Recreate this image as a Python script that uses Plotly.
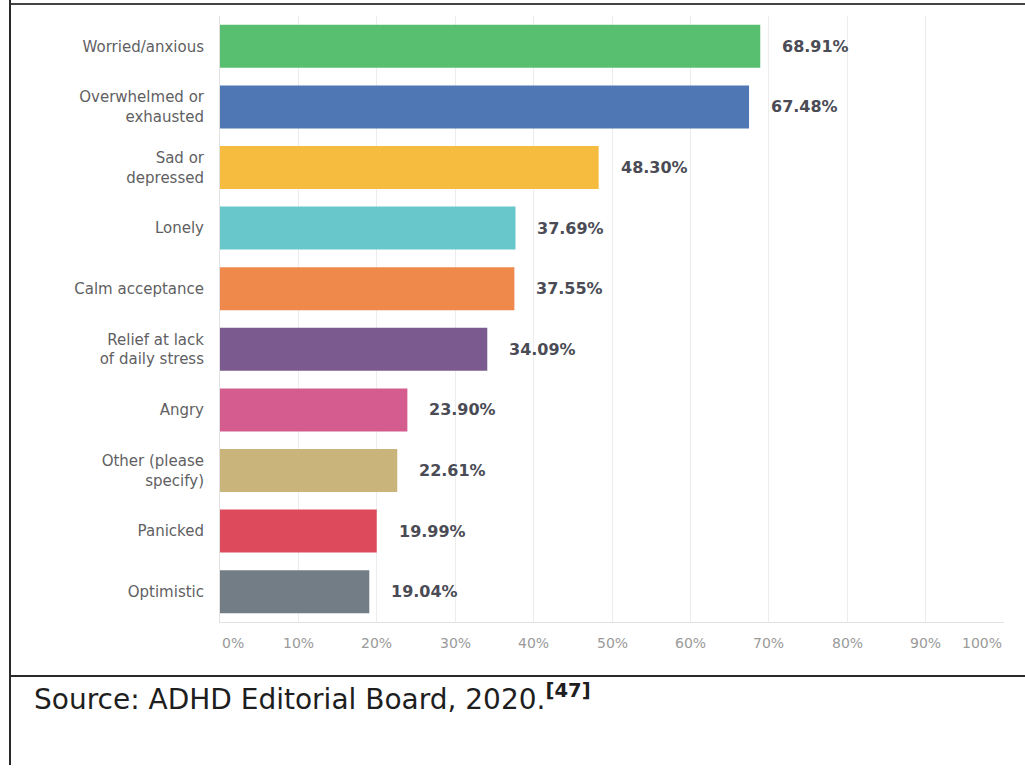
import plotly.graph_objects as go

# Survey responses: share of respondents reporting each feeling
categories = [
    "Worried/anxious",
    "Overwhelmed or<br>exhausted",
    "Sad or<br>depressed",
    "Lonely",
    "Calm acceptance",
    "Relief at lack<br>of daily stress",
    "Angry",
    "Other (please<br>specify)",
    "Panicked",
    "Optimistic",
]
values = [68.91, 67.48, 48.30, 37.69, 37.55, 34.09, 23.90, 22.61, 19.99, 19.04]
colors = [
    "#57BF6F", "#4F77B4", "#F5BC40", "#68C7CB", "#EF884B",
    "#7B5B8F", "#D55C8E", "#C9B57B", "#DC4A5C", "#727D85",
]
tick_vals = [0, 10, 20, 30, 40, 50, 60, 70, 80, 90, 100]
tick_text = ["0%", "10%", "20%", "30%", "40%", "50%", "60%", "70%", "80%", "90%", "100%"]
source_text = "Source: ADHD Editorial Board, 2020.<sup><b>[47]</b></sup>"

# figure kept a few pixels shorter than the window so no scrollbar appears
W, H = 1025, 765
L, R, T, B = 220, 21, 16, 143
pw, ph = W - L - R, H - T - B


def px_x(px):
    return (px - L) / pw


def px_y(py):
    return (H - B - py) / ph


fig = go.Figure()
fig.add_trace(go.Bar(
    y=categories,
    x=values,
    orientation="h",
    marker=dict(color=colors, line=dict(width=0)),
    width=0.71,
    hoverinfo="skip",
))

# value labels to the right of each bar
for c, v in zip(categories, values):
    fig.add_annotation(
        x=v, y=c, xref="x", yref="y",
        text=f"{v:.2f}%", showarrow=False,
        xanchor="left", xshift=20,
        font=dict(family="DejaVu Sans", size=16, color="#4A4B55", weight="bold"),
    )

# x tick labels; the end labels are kept inside the axis span
for i, (tv, tt) in enumerate(zip(tick_vals, tick_text)):
    anchor = "left" if i == 0 else ("right" if i == len(tick_vals) - 1 else "center")
    fig.add_annotation(
        x=tv, y=px_y(643), xref="x", yref="paper",
        text=tt, showarrow=False, xanchor=anchor, yanchor="middle",
        font=dict(family="DejaVu Sans", size=14, color="#9A9A9A"),
    )

# source line below the chart
fig.add_annotation(
    x=px_x(32), y=px_y(697), xref="paper", yref="paper",
    text=source_text, showarrow=False, xanchor="left", yanchor="middle",
    font=dict(family="DejaVu Sans", size=28, color="#1E1E1E"),
)

# frame lines around the figure
frame = dict(color="#2A2A2A", width=2)
fig.add_shape(type="line", xref="paper", yref="paper",
              x0=px_x(10), x1=px_x(1025), y0=px_y(4), y1=px_y(4),
              line=dict(color="#444444", width=2))
fig.add_shape(type="line", xref="paper", yref="paper",
              x0=px_x(10), x1=px_x(1025), y0=px_y(676), y1=px_y(676), line=frame)
fig.add_shape(type="line", xref="paper", yref="paper",
              x0=px_x(10), x1=px_x(10), y0=px_y(0), y1=px_y(H), line=frame)

fig.update_layout(
    width=W, height=H, autosize=False,
    margin=dict(l=L, r=R, t=T, b=B),
    paper_bgcolor="white", plot_bgcolor="white",
    showlegend=False,
    xaxis=dict(
        range=[0, 100], tickvals=tick_vals, showticklabels=False,
        showgrid=True, gridcolor="#ECECEC", gridwidth=1,
        showline=True, linecolor="#E2E2E2", linewidth=1,
        zeroline=False, ticks="",
        fixedrange=True,
    ),
    yaxis=dict(
        autorange="reversed", categoryorder="array", categoryarray=categories,
        showline=True, linecolor="#E2E2E2", linewidth=1,
        showgrid=False, ticks="", ticklabelstandoff=12,
        tickfont=dict(family="DejaVu Sans", size=15, color="#5F5F63"),
        fixedrange=True,
    ),
)

fig.write_html("out.html", config={"responsive": False, "displayModeBar": False})
